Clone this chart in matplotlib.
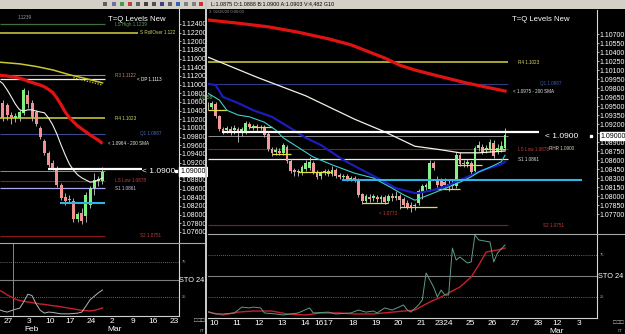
import numpy as np
import matplotlib
matplotlib.use("Agg")
import matplotlib.pyplot as plt
import matplotlib.transforms as mtrans
from matplotlib.lines import Line2D
from matplotlib.patches import Rectangle

plt.rcParams['font.family'] = ['Liberation Sans', 'DejaVu Sans']

# ======================= DATA =======================
# ---- left window: daily EURUSD candles (first bar = 2020-01-24) ----
left_first_day = '2020-01-24'
l_open  = [1.1058, 1.1053, 1.1030, 1.1023, 1.1023, 1.1035, 1.1076, 1.1058, 1.1037, 1.1000,
           1.0970, 1.0942, 1.0919, 1.0908, 1.0868, 1.0841, 1.0836, 1.0832, 1.0790, 1.0804,
           1.0797, 1.0822, 1.0861, 1.0878, 1.0877]
l_high  = [1.1065, 1.1058, 1.1037, 1.1035, 1.1042, 1.1092, 1.1088, 1.1065, 1.1042, 1.1005,
           1.0975, 1.0947, 1.0926, 1.0912, 1.0873, 1.0850, 1.0845, 1.0838, 1.0806, 1.0815,
           1.0852, 1.0866, 1.0896, 1.0889, 1.0910]
l_low   = [1.1016, 1.1018, 1.1009, 1.1014, 1.1016, 1.1030, 1.1046, 1.1016, 1.1005, 1.0975,
           1.0938, 1.0910, 1.0903, 1.0864, 1.0834, 1.0822, 1.0827, 1.0783, 1.0783, 1.0778,
           1.0783, 1.0815, 1.0845, 1.0866, 1.0870]
l_close = [1.1023, 1.1030, 1.1023, 1.1028, 1.1037, 1.1088, 1.1055, 1.1025, 1.1009, 1.0979,
           1.0942, 1.0915, 1.0908, 1.0868, 1.0838, 1.0832, 1.0834, 1.0790, 1.0802, 1.0785,
           1.0845, 1.0861, 1.0880, 1.0882, 1.0898]
l_ma_idx = list(range(-1, 25))
l_sma200 = [1.1122, 1.1121, 1.1120, 1.1118, 1.1117, 1.1115, 1.1112, 1.1108, 1.1105, 1.1102,
            1.1099, 1.1095, 1.1089, 1.1082, 1.1069, 1.1054, 1.1037, 1.1024, 1.1014, 1.1005,
            1.0998, 1.0991, 1.0984, 1.0978, 1.0972, 1.0964]
l_ma_white = [1.1110, 1.1102, 1.1088, 1.1072, 1.1055, 1.1042, 1.1039, 1.1042, 1.1042, 1.1039,
              1.1037, 1.1035, 1.1023, 1.1007, 1.0986, 1.0961, 1.0938, 1.0917, 1.0903, 1.0892,
              1.0885, 1.0880, 1.0875, 1.0876, 1.0880, 1.0885]
l_ma_yellow_idx = [-1, 4, 8, 12, 16, 20, 24]
l_ma_yellow = [1.1152, 1.1148, 1.1142, 1.1134, 1.1123, 1.1114, 1.1104]
l_ma_dotted_idx = [17, 24]
l_ma_dotted = [1.1116, 1.1099]
l_sto_k = [7, 5, 3.5, 5.5, 7.5, 9, 18, 29, 27, 15, 6, 2, 3.5, 3, 2, 1, 1, 1, 1.5, 2, 3.5,
           12, 21, 26, 31, 35]
l_sto_d = [35, 32, 28, 25, 22, 20, 19, 18, 17, 16, 15, 14.5, 13.5, 12.5, 12, 11, 10, 9, 8,
           7, 6, 5.5, 5, 6, 7.5, 9.5]
left_tick_dates = ['2020-01-27', '2020-02-03', '2020-02-10', '2020-02-17', '2020-02-24',
                   '2020-03-02', '2020-03-09', '2020-03-16', '2020-03-23']
left_tick_labels = ['27', '3', '10', '17', '24', '2', '9', '16', '23']
left_month_dates = ['2020-02-03', '2020-03-02']
left_month_labels = ['Feb', 'Mar']

# ---- right window: H4 candles (first bar = last bar of Feb 7) ----
r_open  = [1.0952, 1.0948, 1.0953, 1.0933, 1.0912, 1.0910, 1.0912, 1.0910, 1.0912, 1.0908,
           1.0905, 1.0920, 1.0915, 1.0917, 1.0913, 1.0915, 1.0903, 1.0878, 1.0873, 1.0875,
           1.0872, 1.0882, 1.0858, 1.0843, 1.0840, 1.0838, 1.0845, 1.0847, 1.0855, 1.0840,
           1.0833, 1.0838, 1.0842, 1.0837, 1.0843, 1.0835, 1.0832, 1.0833, 1.0828, 1.0830,
           1.0827, 1.0803, 1.0792, 1.0798, 1.0797, 1.0798, 1.0795, 1.0798, 1.0792, 1.0800,
           1.0797, 1.0800, 1.0795, 1.0788, 1.0785, 1.0783, 1.0788, 1.0805, 1.0815, 1.0812,
           1.0855, 1.0828, 1.0827, 1.0823, 1.0820, 1.0817, 1.0817, 1.0868, 1.0855, 1.0853,
           1.0855, 1.0842, 1.0880, 1.0882, 1.0877, 1.0877, 1.0888, 1.0873, 1.0878, 1.0880]
r_high  = [1.0957, 1.0958, 1.0957, 1.0935, 1.0915, 1.0917, 1.0917, 1.0918, 1.0915, 1.0915,
           1.0925, 1.0923, 1.0920, 1.0920, 1.0918, 1.0918, 1.0907, 1.0882, 1.0882, 1.0880,
           1.0888, 1.0885, 1.0862, 1.0847, 1.0845, 1.0852, 1.0860, 1.0865, 1.0858, 1.0843,
           1.0842, 1.0845, 1.0845, 1.0850, 1.0847, 1.0838, 1.0837, 1.0837, 1.0833, 1.0833,
           1.0830, 1.0805, 1.0803, 1.0803, 1.0803, 1.0802, 1.0802, 1.0802, 1.0803, 1.0805,
           1.0808, 1.0803, 1.0798, 1.0793, 1.0790, 1.0788, 1.0812, 1.0820, 1.0822, 1.0860,
           1.0858, 1.0833, 1.0830, 1.0830, 1.0827, 1.0827, 1.0873, 1.0873, 1.0860, 1.0862,
           1.0858, 1.0883, 1.0892, 1.0887, 1.0885, 1.0895, 1.0893, 1.0887, 1.0892, 1.0913]
r_low   = [1.0943, 1.0945, 1.0930, 1.0908, 1.0903, 1.0905, 1.0902, 1.0903, 1.0890, 1.0900,
           1.0903, 1.0912, 1.0910, 1.0908, 1.0910, 1.0898, 1.0875, 1.0867, 1.0868, 1.0868,
           1.0868, 1.0855, 1.0838, 1.0833, 1.0833, 1.0835, 1.0842, 1.0843, 1.0837, 1.0828,
           1.0828, 1.0835, 1.0833, 1.0833, 1.0830, 1.0828, 1.0828, 1.0825, 1.0825, 1.0823,
           1.0798, 1.0787, 1.0788, 1.0790, 1.0792, 1.0790, 1.0788, 1.0787, 1.0788, 1.0792,
           1.0793, 1.0778, 1.0782, 1.0778, 1.0773, 1.0777, 1.0785, 1.0795, 1.0810, 1.0808,
           1.0843, 1.0813, 1.0813, 1.0815, 1.0808, 1.0812, 1.0813, 1.0850, 1.0848, 1.0848,
           1.0835, 1.0838, 1.0875, 1.0870, 1.0872, 1.0873, 1.0863, 1.0870, 1.0873, 1.0877]
r_close = [1.0948, 1.0955, 1.0933, 1.0912, 1.0908, 1.0913, 1.0908, 1.0913, 1.0908, 1.0912,
           1.0922, 1.0915, 1.0917, 1.0913, 1.0915, 1.0902, 1.0878, 1.0872, 1.0877, 1.0872,
           1.0885, 1.0858, 1.0842, 1.0840, 1.0842, 1.0848, 1.0855, 1.0857, 1.0840, 1.0832,
           1.0838, 1.0842, 1.0837, 1.0843, 1.0833, 1.0832, 1.0833, 1.0828, 1.0830, 1.0827,
           1.0802, 1.0792, 1.0800, 1.0795, 1.0800, 1.0795, 1.0798, 1.0790, 1.0800, 1.0797,
           1.0800, 1.0793, 1.0785, 1.0782, 1.0782, 1.0785, 1.0808, 1.0817, 1.0818, 1.0855,
           1.0847, 1.0818, 1.0817, 1.0818, 1.0817, 1.0822, 1.0868, 1.0853, 1.0853, 1.0857,
           1.0840, 1.0880, 1.0885, 1.0873, 1.0880, 1.0890, 1.0867, 1.0880, 1.0883, 1.0902]
r_red_idx = [-1, 8, 16, 24, 32, 38, 47, 51, 55, 60, 69, 79]
r_red = [1.1094, 1.1088, 1.1082, 1.1073, 1.1062, 1.1052, 1.1030, 1.1018, 1.1010, 1.1002,
         1.0988, 1.0975]
r_white_idx = [-1, 13, 26, 39, 47, 55, 62, 67, 72, 79]
r_white = [1.1034, 1.0998, 1.0967, 1.0928, 1.0907, 1.0883, 1.0877, 1.0872, 1.0872, 1.0875]
r_blue_idx = [-1, 2, 4, 8, 12, 17, 22, 26, 30, 36, 42, 46, 50, 55, 56, 60, 64, 69, 73, 78, 79]
r_blue = [1.0988, 1.0985, 1.0965, 1.0955, 1.0943, 1.0932, 1.0913, 1.0897, 1.0885, 1.0860,
          1.0840, 1.0827, 1.0813, 1.0805, 1.0805, 1.0810, 1.0818, 1.0832, 1.0843, 1.0853, 1.0857]
r_cyan_idx = [-1, 3, 5, 8, 11, 15, 18, 20, 23, 28, 33, 39, 44, 49, 52, 55, 56, 60, 64, 67,
              70, 72, 75, 78, 79]
r_cyan = [1.0975, 1.0960, 1.0943, 1.0935, 1.0932, 1.0923, 1.0910, 1.0897, 1.0885, 1.0865,
          1.0852, 1.0838, 1.0830, 1.0813, 1.0802, 1.0793, 1.0795, 1.0805, 1.0815, 1.0823,
          1.0832, 1.0840, 1.0848, 1.0857, 1.0868]
r_seg_start = [0, 11, 17, 24, 41, 51, 60, 66, 73]
r_seg_end = [5, 17, 22, 33, 48, 61, 67, 73, 79]
r_seg_price = [1.0943, 1.0915, 1.0870, 1.0840, 1.0788, 1.0782, 1.0812, 1.0852, 1.0878]
r_sto_k_idx = [0, 2, 4, 7, 9, 11, 12, 14, 15, 18, 20, 24, 27, 28, 32, 34, 38, 40, 42, 44, 45,
               47, 49, 52, 53, 54, 56, 57, 58, 60, 61, 62, 63, 64, 65, 66, 67, 69, 70, 71, 72,
               75, 76, 77, 79]
r_sto_k = [7.5, 4.8, 4.8, 6, 13, 12, 13, 12, 6, 4.8, 3.6, 6, 12, 6, 7, 4.8, 6, 9.5, 7, 8.3,
           6, 12, 9.5, 15.5, 9.5, 7, 15.5, 21.4, 53.6, 36.9, 25, 33.3, 27.4, 27.4, 83.3, 69,
           72.6, 65.5, 66.7, 98.8, 92.9, 90.5, 66.7, 77.4, 86.9]
r_sto_d_idx = [0, 4, 8, 12, 17, 21, 26, 30, 35, 39, 44, 49, 55, 59, 62, 64, 67, 70, 72, 74, 77, 79]
r_sto_d = [7, 3.6, 7, 8.3, 8.3, 4.8, 3.6, 6, 6, 4.8, 4.8, 7, 9.5, 19, 25, 29.8, 36.9, 48.8,
           63, 78.6, 81, 83.3]
right_day_labels = ['10', '11', '12', '13', '14', '1617', '18', '19', '20', '21', '2324',
                    '25', '26', '27', '28', '12', '3']
right_day_bar = [1, 7, 13, 19, 25, 30, 38, 44, 50, 56, 62, 69, 75, 81, 87, 92, 98]
right_month_label = 'Mar'

# ---- "T=Q Levels" horizontal levels ----
LS_HIGH, ROLLOVER, R3, DP, R4, Q1 = 1.1239, 1.1220, 1.1122, 1.1113, 1.1023, 1.0987
KEY, BID, LS_LOW, S1, ZONE, S2 = 1.0906, 1.0900, 1.0878, 1.0861, 1.0827, 1.0751

# ======================= FIGURE =======================
W, H = 625, 334
fig = plt.figure(figsize=(W / 100, H / 100), dpi=100)
fig.patch.set_facecolor('black')

AX_FS = 5.05


def box(x0, y0, x1, y1):
    return [x0 / W, 1 - y1 / H, (x1 - x0) / W, (y1 - y0) / H]


def make_ax(x0, y0, x1, y1, fc='black'):
    ax = fig.add_axes(box(x0, y0, x1, y1))
    ax.set_facecolor(fc)
    for s in ax.spines.values():
        s.set_visible(False)
    ax.set_xticks([])
    ax.set_yticks([])
    return ax


def ftext(x, y, s, **kw):
    kw.setdefault('va', 'center')
    fig.text(x / W, 1 - y / H, s, **kw)


def fline(x0, y0, x1, y1, color, lw=0.8):
    fig.add_artist(Line2D([x0 / W, x1 / W], [1 - y0 / H, 1 - y1 / H], color=color, lw=lw,
                          transform=fig.transFigure))


def price_axis(ax, ticks, hidden_near=None, hidden_gap=0.0):
    ax.spines['right'].set_visible(True)
    ax.spines['right'].set_color('#d8d8d8')
    ax.spines['right'].set_linewidth(0.8)
    ax.yaxis.tick_right()
    ax.set_yticks(ticks)
    labels = []
    for t in ticks:
        hide = hidden_near is not None and 0 < abs(t - hidden_near) <= hidden_gap
        labels.append('' if hide else f'{t:.5f}')
    ax.set_yticklabels(labels)
    ax.tick_params(axis='y', colors='#cccccc', labelcolor='white', labelsize=AX_FS,
                   length=1.3, width=0.6, pad=0.8)


def candles(ax, o, h, l, c, width, up, dn):
    o, h, l, c = map(np.asarray, (o, h, l, c))
    x = np.arange(len(o))
    ax.vlines(x, l, h, color='#c8c8c8', lw=0.6, zorder=3)
    bull = c >= o
    bottom = np.minimum(o, c)
    height = np.maximum(np.abs(c - o), 0.00005)
    ax.bar(x[bull], height[bull], width, bottom[bull], color=up, lw=0, zorder=4)
    ax.bar(x[~bull], height[~bull], width, bottom[~bull], color=dn, lw=0, zorder=4)


def price_box(ax, price, txt):
    tr = mtrans.blended_transform_factory(ax.transAxes, ax.transData)
    ax.text(1.01, price, txt, transform=tr, ha='left', va='center', fontsize=AX_FS,
            color='black', clip_on=False, zorder=10,
            bbox=dict(boxstyle='square,pad=0.12', fc='white', ec='white'))
    ax.plot([0.985], [price], marker='s', ms=1.6, color='white', transform=tr,
            clip_on=False, zorder=10)


tiny = 3.3

# ---------------- left window ----------------
axT = make_ax(0, 0, 205, 8.5, fc='#d4d0c8')
axT.set_xlim(0, 205)
axT.set_ylim(0, 1)
icon_x = [105, 114, 122, 130, 138, 146, 154, 162, 170, 178, 186, 194, 201]
icon_c = ['#606060', '#7070a0', '#40a040', '#c04040', '#606060', '#404040', '#505050',
          '#404080', '#606060', '#3060c0', '#808080', '#808080', '#d03030']
axT.scatter(icon_x, [0.5] * len(icon_x), s=9, marker='s', c=icon_c, linewidths=0)

xlimL = (-0.72, 42.33)
axL = make_ax(0, 9, 178.5, 243)
axL.set_xlim(*xlimL)
axL.set_ylim(1.07346, 1.12746)
price_axis(axL, np.round(np.arange(1.076, 1.12401, 0.002), 3))
candles(axL, l_open, l_high, l_low, l_close, 0.72, '#7cf47c', '#f59090')
NL = len(l_close)
endL = NL - 0.4
axL.hlines(LS_HIGH, xlimL[0], endL, color='#3f703f', lw=0.9, zorder=2)
axL.hlines(ROLLOVER, xlimL[0], NL + 7.6, color='#d4d43c', lw=1.1, zorder=2)
axL.hlines(R3, xlimL[0], endL, color='#c87464', lw=0.8, zorder=2)
axL.hlines(DP, xlimL[0], endL, color='#f0f0f0', lw=0.9, zorder=2)
axL.hlines(R4, xlimL[0], endL, color='#d4d43c', lw=1.1, zorder=2)
axL.hlines(Q1, xlimL[0], endL, color='#3a4a8c', lw=0.8, zorder=2)
axL.hlines(BID, xlimL[0], endL, color='#8c8c8c', lw=0.7, zorder=2)
axL.hlines(KEY, 10.9, NL + 8.6, color='white', lw=1.6, zorder=6)
axL.hlines(LS_LOW, xlimL[0], endL, color='#8b1c1c', lw=0.8, zorder=2)
axL.hlines(S1, xlimL[0], endL, color='#a8a8ee', lw=0.9, zorder=2)
axL.hlines(ZONE, 13.8, endL, color='#30b4e4', lw=1.5, zorder=6)
axL.hlines(S2, xlimL[0], endL, color='#8b1c1c', lw=0.8, zorder=2)
axL.plot(l_ma_yellow_idx, l_ma_yellow, color='#c8c832', lw=1.1, zorder=5)
axL.plot(l_ma_dotted_idx, l_ma_dotted, color='#c8c832', lw=0.9, ls=(0, (1, 1.2)), zorder=5)
axL.plot(l_ma_idx, l_sma200, color='#e01212', lw=2.3, zorder=5, solid_capstyle='butt')
axL.plot(l_ma_idx, l_ma_white, color='#f2f2e6', lw=0.8, zorder=5)
price_box(axL, BID, '1.09000')

lab = dict(fontsize=tiny, va='center', ha='left', zorder=8)
axL.text(NL + 2, LS_HIGH, 'LS High 1.1239', color='#5aa05a', **lab)
axL.text(NL + 8, ROLLOVER, 'S RollOver 1.122', color='#d8d860', **lab)
axL.text(NL + 2, R3, 'R3 1.1122', color='#d08070', **lab)
axL.text(NL + 7.3, DP, '< DP 1.1113', color='white', **lab)
axL.text(NL + 2, R4, 'R4 1.1023', color='#d8d860', **lab)
axL.text(NL + 8, Q1, 'Q1 1.0987', color='#4a66c8', **lab)
axL.text(NL + 0.3, l_sma200[-1], f'< {l_sma200[-1]:.4f} - 200 SMA', color='#e8e8e8', **lab)
axL.text(NL + 8.6, BID, '< 1.0900', color='white', fontsize=6, va='center', ha='left', zorder=8)
axL.text(NL + 2, LS_LOW, 'LS Low 1.0878', color='#c04040', **lab)
axL.text(NL + 2, S1, 'S1 1.0861', color='#c8c8f0', **lab)
axL.text(NL + 8, S2, 'S2 1.0751', color='#c04040', **lab)
axL.text(0.14, 0.965, '1.1239', transform=axL.transAxes, color='#a0a0a0', fontsize=tiny,
         ha='center', va='center')
axL.text(0.605, 0.957, 'T=Q Levels New', transform=axL.transAxes, color='white',
         fontsize=5.6, ha='left', va='center')

axLs = make_ax(0, 243, 178.5, 316)
axLs.set_xlim(*xlimL)
axLs.set_ylim(-2.1, 102.1)
axLs.spines['right'].set_visible(True)
axLs.spines['right'].set_color('#d8d8d8')
axLs.spines['right'].set_linewidth(0.8)
axLs.spines['bottom'].set_visible(True)
axLs.spines['bottom'].set_color('#d0d0d0')
axLs.spines['bottom'].set_linewidth(0.8)
axLs.axhline(75, color='#8a8a8a', lw=0.6, ls=(0, (1, 1.5)))
axLs.axhline(25, color='#8a8a8a', lw=0.6, ls=(0, (1, 1.5)))
axLs.axhline(50, color='#7c7c7c', lw=0.8)
axLs.axvline(2.4, color='#9a9a9a', lw=0.6)
axLs.plot(l_ma_idx, l_sto_d, color='#c8202c', lw=1.0, zorder=4)
axLs.plot(l_ma_idx, l_sto_k, color='#b4b4b4', lw=0.7, zorder=5)
trL = mtrans.blended_transform_factory(axLs.transData, axLs.transAxes)
for d, s in zip(left_tick_dates, left_tick_labels):
    pos = np.busday_count(left_first_day, d)
    axLs.text(pos + 0.25, -0.07, s, transform=trL, color='white', fontsize=6,
              ha='center', va='center', clip_on=False)
for d, s in zip(left_month_dates, left_month_labels):
    pos = np.busday_count(left_first_day, d)
    axLs.text(pos + 1.0, -0.18, s, transform=trL, color='white', fontsize=6,
              ha='center', va='center', clip_on=False)
trLs = mtrans.blended_transform_factory(axLs.transAxes, axLs.transData)
for v in (75, 25):
    axLs.text(1.02, v, str(v), transform=trLs, color='#a0a0a0', fontsize=3,
              ha='left', va='center', clip_on=False)
axLs.text(1.003, 50, 'STO 24,', transform=trLs, color='white', fontsize=5.3,
          ha='left', va='center', clip_on=False)

fline(0, 243, 205, 243, '#a8a8a8', 0.8)
ftext(199, 320.5, '\u25a1\u25a1\u25a1', color='#d0d0d0', fontsize=4.2, ha='center')
ftext(202, 330, '.rr', color='#c0c0c0', fontsize=3.3, ha='center')

# window border
fig.add_artist(Rectangle((205 / W, 0), 2.2 / W, 1, transform=fig.transFigure,
                         color='#c8c8c8', lw=0, zorder=20))

# ---------------- right window ----------------
axH = make_ax(207.2, 0, 625, 8.5, fc='#d4d0c8')
axH.text(0.008, 0.5, 'L:1.0875 O:1.0888 B:1.0900 A:1.0903 V:4,482 G10',
         transform=axH.transAxes, fontsize=3.9, color='black', ha='left', va='center')

xlimR = (-0.13, 103.46)
axR = make_ax(207.5, 10, 597, 234)
axR.set_xlim(*xlimR)
axR.set_ylim(1.07367, 1.1110)
price_axis(axR, np.round(np.arange(1.077, 1.10701, 0.0015), 4), hidden_near=BID,
           hidden_gap=0.0006)
candles(axR, r_open, r_high, r_low, r_close, 0.74, '#86f086', '#f49a9a')
NR = len(r_close)
endR = NR - 0.2
axR.hlines(R4, xlimR[0], endR, color='#d4d43c', lw=1.1, zorder=2)
axR.hlines(Q1, xlimR[0], endR, color='#2e3c86', lw=0.8, zorder=2)
axR.hlines(BID, xlimR[0], endR, color='#8c8c8c', lw=0.7, zorder=2)
axR.hlines(KEY, 3.7, NR + 8, color='white', lw=1.6, zorder=6)
axR.hlines(LS_LOW, xlimR[0], endR, color='#8b1c1c', lw=0.8, zorder=2)
axR.hlines(S1, xlimR[0], endR, color='#ececec', lw=0.9, zorder=2)
axR.hlines(ZONE, 35.6, NR + 19.5, color='#30b4e4', lw=1.5, zorder=6)
axR.hlines(S2, xlimR[0], endR, color='#8b1c1c', lw=0.8, zorder=2)
axR.hlines(r_seg_price, r_seg_start, r_seg_end, color='#e0e040', lw=0.9, zorder=5)
axR.plot(r_red_idx, r_red, color='#e01212', lw=2.3, zorder=5)
axR.plot(r_white_idx, r_white, color='#f2f2e6', lw=0.9, zorder=5)
axR.plot(r_blue_idx, r_blue, color='#1c1cb8', lw=1.6, zorder=5)
axR.plot(r_cyan_idx, r_cyan, color='#3cd0d0', lw=0.8, zorder=5)
price_box(axR, BID, '1.09000')

axR.text(NR + 2.4, R4, 'R4 1.1023', color='#d8d860', **lab)
axR.text(NR + 8.3, Q1, 'Q1 1.0987', color='#3c5cc0', **lab)
axR.text(NR + 1.0, r_red[-1], f'< {r_red[-1]:.4f} - 200 SMA', color='#e8e8e8', **lab)
axR.text(NR + 9.6, BID, '< 1.0900', color='white', fontsize=6, va='center', ha='left', zorder=8)
axR.text(NR + 2.4, LS_LOW, 'LS Low 1.0878', color='#c04040', **lab)
axR.text(NR + 10.7, LS_LOW + 0.0002, 'RHR 1.0900', color='#d8d8c0', **lab)
axR.text(NR + 2.4, S1, 'S1 1.0861', color='#e0e0e0', **lab)
axR.text(NR + 9.1, S2, 'S2 1.0751', color='#c04040', **lab)
hi_i = int(np.argmax(r_high))
lo_i = int(np.argmin(r_low))
axR.text(hi_i - 1.5, max(r_high) + 0.0007, f'{max(r_high):.4f}', color='#80c080',
         fontsize=tiny, ha='center', va='center')
axR.text(lo_i - 6, min(r_low) - 0.0002, f'< {min(r_low):.4f}', color='#c04040',
         fontsize=tiny, ha='center', va='center')
axR.text(0.782, 0.957, 'T=Q Levels New', transform=axR.transAxes, color='white',
         fontsize=5.6, ha='left', va='center')
axR.text(0.004, 0.99, '3  02/26/20 0:00:00', transform=axR.transAxes, color='#909090',
         fontsize=3, ha='left', va='center')

axRs = make_ax(207.5, 234, 597, 318)
axRs.set_xlim(*xlimR)
axRs.set_ylim(0, 100)
axRs.spines['right'].set_visible(True)
axRs.spines['right'].set_color('#d8d8d8')
axRs.spines['right'].set_linewidth(0.8)
axRs.spines['bottom'].set_visible(True)
axRs.spines['bottom'].set_color('#d0d0d0')
axRs.spines['bottom'].set_linewidth(0.8)
axRs.axhline(75, color='#8a8a8a', lw=0.6, ls=(0, (1, 1.5)))
axRs.axhline(25, color='#8a8a8a', lw=0.6, ls=(0, (1, 1.5)))
axRs.axhline(50, color='#7c7c7c', lw=0.8)
axRs.plot(r_sto_d_idx, r_sto_d, color='#c8202c', lw=1.0, zorder=4)
axRs.plot(r_sto_k_idx, r_sto_k, color='#5e9c86', lw=0.7, zorder=5)
trR = mtrans.blended_transform_factory(axRs.transData, axRs.transAxes)
for b, s in zip(right_day_bar, right_day_labels):
    axRs.text(b + 0.7, -0.062, s, transform=trR, color='white', fontsize=6,
              ha='center', va='center', clip_on=False)
axRs.text(right_day_bar[-2] + 0.7, -0.16, right_month_label, transform=trR, color='white',
          fontsize=6, ha='center', va='center', clip_on=False)
trRs = mtrans.blended_transform_factory(axRs.transAxes, axRs.transData)
for v in (75, 25):
    axRs.text(1.008, v, str(v), transform=trRs, color='#a0a0a0', fontsize=3,
              ha='left', va='center', clip_on=False)
axRs.text(1.002, 50, 'STO 24', transform=trRs, color='white', fontsize=5.3,
          ha='left', va='center', clip_on=False)

fline(207.5, 234, 625, 234, '#a8a8a8', 0.8)
ftext(618, 322, '\u25a1\u25a1\u25a1', color='#d0d0d0', fontsize=4.2, ha='center')
ftext(620, 331, '.rr', color='#c0c0c0', fontsize=3.3, ha='center')

fig.savefig('out.png', dpi=100, facecolor='black')
